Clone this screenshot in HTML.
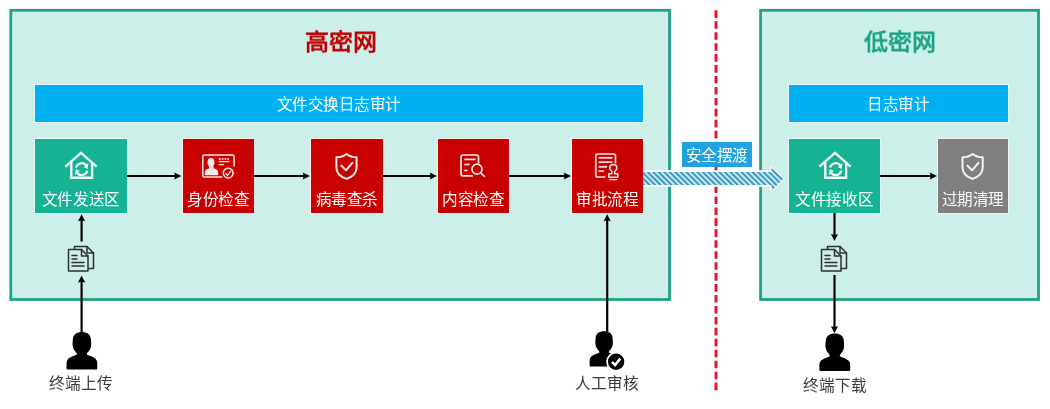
<!DOCTYPE html>
<html lang="zh-CN">
<head>
<meta charset="utf-8">
<style>
html,body{margin:0;padding:0;background:#ffffff;}
body{width:1050px;height:409px;overflow:hidden;position:relative;font-family:"Liberation Sans",sans-serif;}
svg{position:absolute;left:0;top:0;}
.t{will-change:transform;position:absolute;white-space:nowrap;text-align:center;line-height:1;font-family:"Liberation Sans",sans-serif;}
</style>
</head>
<body>
<svg width="1050" height="409" viewBox="0 0 1050 409">
<defs>
  <pattern id="stripe" patternUnits="userSpaceOnUse" width="3.9" height="3.9" patternTransform="rotate(-45)">
    <rect x="0" y="0" width="3.9" height="3.9" fill="#c2ecf8"/>
    <rect x="0" y="0" width="1.8" height="3.9" fill="#3b8db8"/>
  </pattern>
</defs>

<!-- panels -->
<rect x="10.8" y="10.3" width="658.7" height="289.2" fill="#cdefe9" stroke="#21a186" stroke-width="2.8"/>
<rect x="760.6" y="10.3" width="277.9" height="289.2" fill="#cdefe9" stroke="#21a186" stroke-width="2.8"/>

<!-- red dashed divider -->
<line x1="716" y1="10.3" x2="716" y2="391" stroke="#e0182a" stroke-width="3" stroke-dasharray="7.6,3.35"/>

<!-- blue bars & boxes -->
<g shape-rendering="crispEdges">
<rect x="34.5" y="84.5" width="609" height="38" fill="#00b0f0" stroke="#e6f9ff" stroke-width="1"/>
<rect x="35" y="85" width="608" height="37" fill="#00b0f0"/>
<rect x="788.5" y="84.5" width="220" height="38" fill="#00b0f0" stroke="#e6f9ff" stroke-width="1"/>
<rect x="789" y="85" width="219" height="37" fill="#00b0f0"/>
<rect x="34.5" y="138.5" width="93" height="75" fill="#15b294" stroke="#e8fbf5" stroke-width="1"/>
<rect x="35" y="139" width="92" height="74" fill="#15b294"/>
<rect x="182.5" y="138.5" width="72" height="75" fill="#c80000" stroke="#fdecec" stroke-width="1"/>
<rect x="183" y="139" width="71" height="74" fill="#c80000"/>
<rect x="310.5" y="138.5" width="73" height="75" fill="#c80000" stroke="#fdecec" stroke-width="1"/>
<rect x="311" y="139" width="72" height="74" fill="#c80000"/>
<rect x="437.5" y="138.5" width="72" height="75" fill="#c80000" stroke="#fdecec" stroke-width="1"/>
<rect x="438" y="139" width="71" height="74" fill="#c80000"/>
<rect x="571.5" y="138.5" width="72" height="75" fill="#c80000" stroke="#fdecec" stroke-width="1"/>
<rect x="572" y="139" width="71" height="74" fill="#c80000"/>
<rect x="788.5" y="138.5" width="92" height="75" fill="#15b294" stroke="#e8fbf5" stroke-width="1"/>
<rect x="789" y="139" width="91" height="74" fill="#15b294"/>
<rect x="937.5" y="138.5" width="71" height="75" fill="#7f7f7f" stroke="#f4f4f4" stroke-width="1"/>
<rect x="938" y="139" width="70" height="74" fill="#7f7f7f"/>
</g>

<!-- box icons -->
<g id="house" fill="none" stroke="#effcf8" stroke-width="2.4" stroke-linejoin="miter">
  <path d="M65.4,166.6 L81,152.9 L96.6,166.6"/>
  <path d="M71.3,162 L71.3,177.8 L92.1,177.8 L92.1,162"/>
  <g stroke-width="2.2"><path d="M76.00,167.57 A5.90,5.90 0 0 1 86.35,165.47"/><path d="M87.40,170.63 A5.90,5.90 0 0 1 77.05,172.73"/></g>
  <g fill="#effcf8" stroke="none"><path d="M83.71,167.29 L88.46,163.01 L87.60,169.10 z"/><path d="M79.69,170.91 L74.94,175.19 L75.80,169.10 z"/></g>
</g>
<g transform="translate(754,0)" fill="none" stroke="#effcf8" stroke-width="2.4" stroke-linejoin="miter">
  <path d="M65.4,166.6 L81,152.9 L96.6,166.6"/>
  <path d="M71.3,162 L71.3,177.8 L92.1,177.8 L92.1,162"/>
  <g stroke-width="2.2"><path d="M76.00,167.57 A5.90,5.90 0 0 1 86.35,165.47"/><path d="M87.40,170.63 A5.90,5.90 0 0 1 77.05,172.73"/></g>
  <g fill="#effcf8" stroke="none"><path d="M83.71,167.29 L88.46,163.01 L87.60,169.10 z"/><path d="M79.69,170.91 L74.94,175.19 L75.80,169.10 z"/></g>
</g>
<!-- id card -->
<g fill="none" stroke="#fbe6e6" stroke-width="1.5">
  <path d="M222.3,177.1 L204.3,177.1 Q202.8,177.1 202.8,175.6 L202.8,156.5 Q202.8,155 204.3,155 L232.6,155 Q234.1,155 234.1,156.5 L234.1,166.5"/>
  <circle cx="228.2" cy="173.1" r="4.9"/>
  <path d="M225.6,173.4 L227.5,175.4 L230.9,170.8" stroke-width="1.4"/>
  <line x1="218.8" y1="161.6" x2="229.4" y2="161.6" stroke-width="1.3"/>
  <line x1="218.8" y1="164.6" x2="224" y2="164.6" stroke-width="1.3"/>
  <line x1="218.8" y1="159" x2="229" y2="159" stroke-width="1.3" stroke-dasharray="2,0.8"/>
</g>
<g fill="#fbe6e6">
  <ellipse cx="211" cy="162.2" rx="3.5" ry="4.3"/>
  <path d="M208.6,166 L213.4,166 L213.8,168.3 C216.5,169 218.2,170.3 218.2,172.5 L218.2,175.3 L204.8,175.3 L204.8,172.5 C204.8,170.3 206.5,169 209.2,168.3 z"/>
</g>
<!-- shield red -->
<g fill="none" stroke="#fbe6e6" stroke-width="2" stroke-linecap="round" stroke-linejoin="round">
  <path d="M346.5,154 C343.5,156.4 340,157.3 336.4,157.3 L336.4,167.5 C336.4,172.8 340.5,176.8 346.5,178.9 C352.5,176.8 356.6,172.8 356.6,167.5 L356.6,157.3 C353,157.3 349.5,156.4 346.5,154 Z"/>
  <path d="M341.3,165.6 L346,170.3 L352.3,162.8"/>
</g>
<!-- doc search -->
<g fill="none" stroke="#fbe6e6" stroke-width="1.7" stroke-linecap="round" stroke-linejoin="round">
  <path d="M472.3,175.8 L463,175.8 Q461,175.8 461,173.8 L461,157 Q461,155 463,155 L476.5,155 Q478.5,155 478.5,157 L478.5,162.9"/>
  <line x1="464.3" y1="159.4" x2="475.6" y2="159.4" stroke-linecap="butt"/>
  <line x1="464.3" y1="164.5" x2="469.5" y2="164.5" stroke-linecap="butt"/>
  <line x1="464.3" y1="170.5" x2="467.6" y2="170.5" stroke-linecap="butt"/>
  <circle cx="477" cy="169.2" r="5"/>
  <line x1="480.8" y1="173" x2="484.4" y2="176.4"/>
</g>
<!-- approval -->
<g fill="none" stroke="#fbe6e6" stroke-width="1.7" stroke-linecap="round" stroke-linejoin="round">
  <path d="M604.7,177 L597.8,177 Q595.8,177 595.8,175 L595.8,156 Q595.8,154 597.8,154 L613.5,154 Q615.5,154 615.5,156 L615.5,162.5"/>
  <line x1="598.6" y1="157.8" x2="612.5" y2="157.8" stroke-linecap="butt"/>
  <line x1="598.6" y1="162.1" x2="612.5" y2="162.1" stroke-linecap="butt"/>
  <line x1="598.6" y1="166.8" x2="607" y2="166.8" stroke-linecap="butt"/>
  <line x1="598.6" y1="171.1" x2="603.9" y2="171.1" stroke-linecap="butt"/>
  <path d="M611.9,173.7 L611.9,171.3 C610.4,170.5 609.8,169.3 609.8,167.9 C609.8,165.9 611.3,164.4 613.3,164.4 C615.3,164.4 616.8,165.9 616.8,167.9 C616.8,169.3 616.2,170.5 614.7,171.3 L614.7,173.7 L617.8,173.7 L617.8,177.2 L608.8,177.2 L608.8,173.7 Z" stroke-width="1.5"/>
  <line x1="609.2" y1="179.6" x2="617.4" y2="179.6" stroke-width="1.3" stroke-linecap="butt"/>
</g>
<!-- shield gray -->
<g fill="none" stroke="#f4f4f4" stroke-width="2" stroke-linecap="round" stroke-linejoin="round" transform="translate(626.1,0)">
  <path d="M346.5,154 C343.5,156.4 340,157.3 336.4,157.3 L336.4,167.5 C336.4,172.8 340.5,176.8 346.5,178.9 C352.5,176.8 356.6,172.8 356.6,167.5 L356.6,157.3 C353,157.3 349.5,156.4 346.5,154 Z"/>
  <path d="M341.3,165.6 L346,170.3 L352.3,162.8"/>
</g>

<!-- horizontal arrows -->
<g stroke="#000" stroke-width="2" fill="none">
  <line x1="127" y1="176" x2="176.5" y2="176"/>
  <line x1="254" y1="176" x2="305" y2="176"/>
  <line x1="383" y1="176" x2="432" y2="176"/>
  <line x1="509" y1="176" x2="566" y2="176"/>
  <line x1="880" y1="176" x2="932" y2="176"/>
</g>
<g fill="#000">
  <path d="M181.5,176 L174.3,172.4 L175.2,176 L174.3,179.6 z"/>
  <path d="M310,176 L302.8,172.4 L303.7,176 L302.8,179.6 z"/>
  <path d="M437,176 L429.8,172.4 L430.7,176 L429.8,179.6 z"/>
  <path d="M571,176 L563.8,172.4 L564.7,176 L563.8,179.6 z"/>
  <path d="M937,176 L929.8,172.4 L930.7,176 L929.8,179.6 z"/>
</g>

<!-- vertical arrows -->
<g stroke="#000" stroke-width="2.2" fill="none">
  <line x1="81.6" y1="332" x2="81.6" y2="280"/>
  <line x1="81.6" y1="241.5" x2="81.6" y2="219"/>
  <line x1="607.2" y1="332" x2="607.2" y2="219"/>
  <line x1="834.5" y1="213" x2="834.5" y2="236"/>
  <line x1="834.5" y1="275" x2="834.5" y2="328"/>
</g>
<g fill="#000">
  <path d="M81.6,275.6 L85.2,282.6 L81.6,281.7 L78,282.6 z"/>
  <path d="M81.6,214.2 L85.2,221.2 L81.6,220.3 L78,221.2 z"/>
  <path d="M607.2,214.2 L610.8,221.2 L607.2,220.3 L603.6,221.2 z"/>
  <path d="M834.5,241 L838.1,234 L834.5,234.9 L830.9,234 z"/>
  <path d="M834.5,333.2 L838.1,326.2 L834.5,327.1 L830.9,326.2 z"/>
</g>

<!-- striped transfer arrow -->
<path d="M643,170 L770,170 L770,166 L785.5,178.5 L770,193 L770,187 L643,187 z" fill="#ffffff" opacity="0.85"/>
<path d="M643,172 L771.5,172 L771.5,168 L783.5,178.5 L771.5,191 L771.5,185 L643,185 z" fill="url(#stripe)"/>

<!-- label -->
<rect x="682" y="142" width="70" height="25" fill="#22a1e0"/>

<!-- doc icons -->
<g id="doc1" fill="none" stroke="#303030" stroke-width="1.5" stroke-linejoin="round" stroke-linecap="round">
  <path d="M74.5,249 L74.5,246.5 L87,246.5 L93.5,253 L93.5,268.5 L88,268.5"/>
  <path d="M87,246.5 L87,253 L93.5,253"/>
  <path d="M68.5,249.5 L81.5,249.5 L88,256 L88,271 L68.5,271 z" fill="#cdeee7"/>
  <path d="M81.5,249.5 L81.5,256 L88,256"/>
  <line x1="72" y1="255.5" x2="77" y2="255.5"/>
  <line x1="72" y1="259" x2="77" y2="259"/>
  <line x1="72" y1="262.5" x2="84" y2="262.5"/>
  <line x1="72" y1="266" x2="84" y2="266"/>
</g>
<g transform="translate(753,0)" fill="none" stroke="#303030" stroke-width="1.5" stroke-linejoin="round" stroke-linecap="round">
  <path d="M74.5,249 L74.5,246.5 L87,246.5 L93.5,253 L93.5,268.5 L88,268.5"/>
  <path d="M87,246.5 L87,253 L93.5,253"/>
  <path d="M68.5,249.5 L81.5,249.5 L88,256 L88,271 L68.5,271 z" fill="#cdeee7"/>
  <path d="M81.5,249.5 L81.5,256 L88,256"/>
  <line x1="72" y1="255.5" x2="77" y2="255.5"/>
  <line x1="72" y1="259" x2="77" y2="259"/>
  <line x1="72" y1="262.5" x2="84" y2="262.5"/>
  <line x1="72" y1="266" x2="84" y2="266"/>
</g>

<!-- persons -->
<g fill="#000">
  <path transform="translate(81.9,331.9)" d="M0,0 C-5,0 -8.6,2.2 -9,7 C-9.2,9.5 -9.5,12 -9.2,14 C-8.8,16.5 -7.5,18.8 -6,20.2 C-5.3,21 -4.9,21.8 -4.9,22.6 C-7.5,24 -12.5,25 -14.5,28 C-15.3,29.3 -15.4,31 -15.4,33 L-15.4,36.5 Q-15.4,37.5 -14.4,37.5 L14.4,37.5 Q15.4,37.5 15.4,36.5 L15.4,33 C15.4,31 15.3,29.3 14.5,28 C12.5,25 7.5,24 4.9,22.6 C4.9,21.8 5.3,21 6,20.2 C7.5,18.8 8.8,16.5 9.2,14 C9.5,12 9.2,9.5 9,7 C8.6,2.2 5,0 0,0 Z"/>
  <path transform="translate(834.8,333.6)" d="M0,0 C-5,0 -8.6,2.2 -9,7 C-9.2,9.5 -9.5,12 -9.2,14 C-8.8,16.5 -7.5,18.8 -6,20.2 C-5.3,21 -4.9,21.8 -4.9,22.6 C-7.5,24 -12.5,25 -14.5,28 C-15.3,29.3 -15.4,31 -15.4,33 L-15.4,36.5 Q-15.4,37.5 -14.4,37.5 L14.4,37.5 Q15.4,37.5 15.4,36.5 L15.4,33 C15.4,31 15.3,29.3 14.5,28 C12.5,25 7.5,24 4.9,22.6 C4.9,21.8 5.3,21 6,20.2 C7.5,18.8 8.8,16.5 9.2,14 C9.5,12 9.2,9.5 9,7 C8.6,2.2 5,0 0,0 Z"/>
  <path transform="translate(604.1,331.3) scale(0.94)" d="M0,0 C-5,0 -8.6,2.2 -9,7 C-9.2,9.5 -9.5,12 -9.2,14 C-8.8,16.5 -7.5,18.8 -6,20.2 C-5.3,21 -4.9,21.8 -4.9,22.6 C-7.5,24 -12.5,25 -14.5,28 C-15.3,29.3 -15.4,31 -15.4,33 L-15.4,36.5 Q-15.4,37.5 -14.4,37.5 L14.4,37.5 Q15.4,37.5 15.4,36.5 L15.4,33 C15.4,31 15.3,29.3 14.5,28 C12.5,25 7.5,24 4.9,22.6 C4.9,21.8 5.3,21 6,20.2 C7.5,18.8 8.8,16.5 9.2,14 C9.5,12 9.2,9.5 9,7 C8.6,2.2 5,0 0,0 Z"/>
  <circle cx="616.1" cy="361.8" r="9.9" fill="#fff"/>
  <circle cx="616.1" cy="361.8" r="8.2"/>
</g>
<path d="M612,361.8 L615,365 L620.3,358.6" fill="none" stroke="#fff" stroke-width="2.5"/>
</svg>

<div class="t" style="left:291px;top:30.5px;width:100px;font-size:24px;font-weight:900;transform:scaleY(0.95);transform-origin:50% 0;color:#c00000;">高密网</div>
<div class="t" style="left:850px;top:30.5px;width:100px;font-size:24px;font-weight:900;transform:scaleY(0.95);transform-origin:50% 0;color:#1aa486;">低密网</div>
<div class="t" style="left:35px;top:96.8px;width:608px;font-size:15.6px;letter-spacing:-0.45px;text-indent:-0.45px;color:#fff;">文件交换日志审计</div>
<div class="t" style="left:789px;top:96.5px;width:219px;font-size:15.6px;font-weight:500;letter-spacing:-0.4px;text-indent:-0.4px;color:#fff;">日志审计</div>
<div class="t" style="left:35px;top:192px;width:92px;font-size:15.6px;font-weight:500;letter-spacing:-0.4px;text-indent:-0.4px;color:#fff;">文件发送区</div>
<div class="t" style="left:183px;top:192px;width:71px;font-size:15.6px;font-weight:500;letter-spacing:-0.4px;text-indent:-0.4px;color:#fff;">身份检查</div>
<div class="t" style="left:311px;top:192px;width:72px;font-size:15.6px;font-weight:500;letter-spacing:-0.4px;text-indent:-0.4px;color:#fff;">病毒查杀</div>
<div class="t" style="left:438px;top:192px;width:71px;font-size:15.6px;font-weight:500;letter-spacing:-0.4px;text-indent:-0.4px;color:#fff;">内容检查</div>
<div class="t" style="left:572px;top:192px;width:71px;font-size:15.6px;font-weight:500;letter-spacing:-0.4px;text-indent:-0.4px;color:#fff;">审批流程</div>
<div class="t" style="left:789px;top:192px;width:91px;font-size:15.6px;font-weight:500;letter-spacing:-0.4px;text-indent:-0.4px;color:#fff;">文件接收区</div>
<div class="t" style="left:938px;top:192px;width:70px;font-size:15.6px;font-weight:500;letter-spacing:-0.4px;text-indent:-0.4px;color:#fff;">过期清理</div>
<div class="t" style="left:681.5px;top:148px;width:70px;font-size:15.6px;font-weight:500;letter-spacing:-0.4px;text-indent:-0.4px;color:#fff;">安全摆渡</div>
<div class="t" style="left:31px;top:375.5px;width:100px;font-size:15.6px;letter-spacing:-0.2px;text-indent:-0.2px;color:#3a3a3a;">终端上传</div>
<div class="t" style="left:557px;top:376px;width:100px;font-size:15.6px;letter-spacing:-0.2px;text-indent:-0.2px;color:#3a3a3a;">人工审核</div>
<div class="t" style="left:785px;top:377.5px;width:100px;font-size:15.6px;letter-spacing:-0.2px;text-indent:-0.2px;color:#3a3a3a;">终端下载</div>
</body>
</html>
